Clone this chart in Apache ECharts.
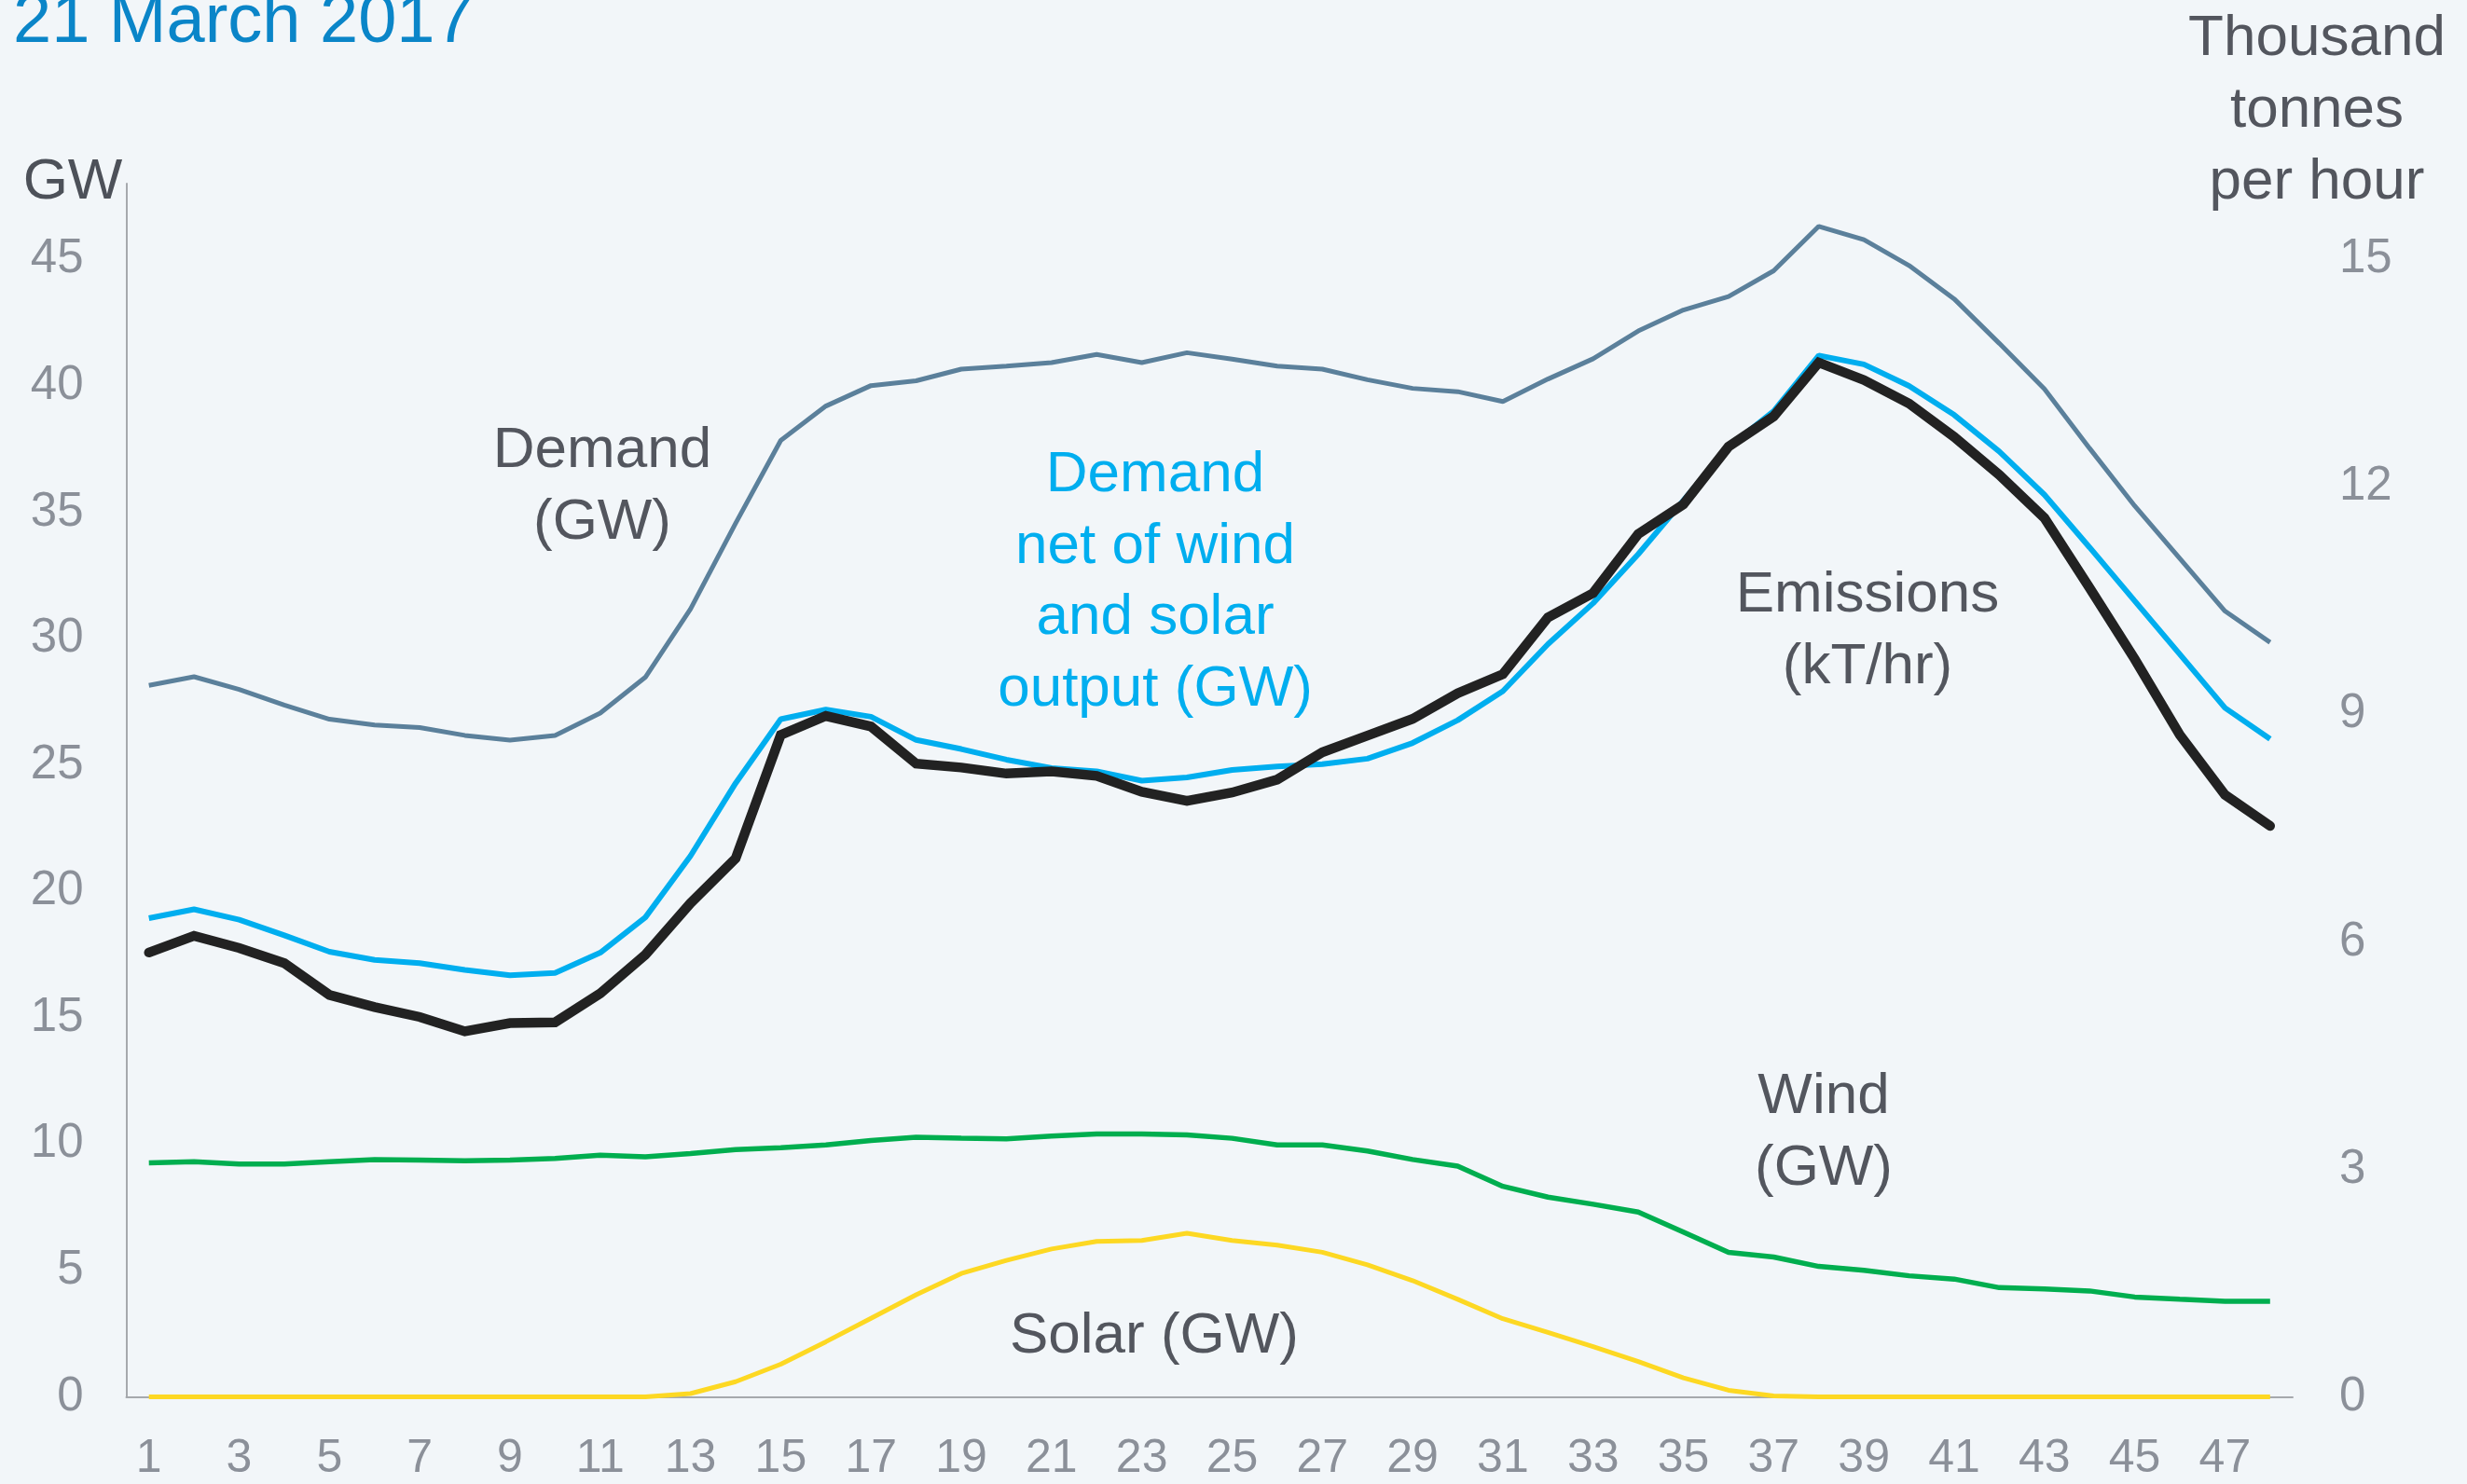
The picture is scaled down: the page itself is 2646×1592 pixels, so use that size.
<!DOCTYPE html>
<html>
<head>
<meta charset="utf-8">
<script src="https://cdn.jsdelivr.net/npm/echarts@6/dist/echarts.min.js"></script>
<style>
html,body{margin:0;padding:0;background:#f2f6f9;}
#chart{width:2646px;height:1592px;}
</style>
</head>
<body>
<div id="chart"></div>
<script>
// Half-hourly settlement periods
var periods = [];
for (var p = 1; p <= 48; p++) periods.push(String(p));

// Demand (GW)
var demand = [28.15,28.49,27.99,27.37,26.81,26.58,26.48,26.17,25.98,26.17,27.05,28.47,31.17,34.56,37.84,39.2,
  40.01,40.2,40.66,40.78,40.92,41.24,40.92,41.31,41.06,40.78,40.66,40.24,39.9,39.77,39.38,40.27,
  41.07,42.17,43.0,43.53,44.55,46.31,45.78,44.76,43.44,41.68,39.88,37.53,35.25,33.17,31.09,29.85];

// Demand net of wind and solar output (GW)
var netDemand = [18.94,19.29,18.88,18.26,17.61,17.29,17.16,16.89,16.68,16.77,17.57,18.97,21.4,24.28,26.81,27.19,
  26.91,25.99,25.63,25.21,24.88,24.75,24.38,24.51,24.8,24.94,25.03,25.25,25.87,26.77,27.92,29.78,
  31.4,33.34,35.46,37.58,39.0,41.2,40.85,40.0,38.85,37.4,35.69,33.61,31.49,29.38,27.26,26.03];

// Wind (GW)
var wind = [9.26,9.3,9.21,9.21,9.3,9.39,9.37,9.34,9.37,9.43,9.56,9.5,9.63,9.78,9.86,9.97,
  10.14,10.27,10.23,10.21,10.32,10.4,10.4,10.36,10.23,9.97,9.97,9.73,9.39,9.13,8.33,7.9,
  7.62,7.31,6.52,5.72,5.53,5.16,5.01,4.79,4.66,4.32,4.27,4.19,3.95,3.86,3.78,3.78];

// Solar (GW)
var solar = [0,0,0,0,0,0,0,0,0,0,0,0,0.13,0.6,1.29,2.18,
  3.11,4.04,4.88,5.4,5.85,6.15,6.19,6.47,6.19,6.0,5.72,5.22,4.6,3.86,3.09,2.55,
  1.99,1.4,0.75,0.26,0.04,0,0,0,0,0,0,0,0,0,0,0];

// Emissions (thousand tonnes per hour)
var emissions = [5.86,6.08,5.92,5.72,5.3,5.14,5.01,4.82,4.93,4.94,5.32,5.83,6.51,7.1,8.73,8.98,
  8.84,8.35,8.3,8.22,8.25,8.19,7.98,7.86,7.97,8.14,8.5,8.72,8.94,9.28,9.53,10.28,
  10.6,11.38,11.77,12.53,12.93,13.64,13.41,13.1,12.66,12.16,11.59,10.67,9.73,8.73,7.94,7.53];

var FONT = '"Liberation Sans", Arial, sans-serif';
var TXT = '#53565e';
var TICK = '#8b9099';

function lines(arr, x, y0, step, color, size, align) {
  return arr.map(function (t, i) {
    return {
      type: 'text', x: x, y: y0 + i * step, z: 100,
      style: { text: t, fill: color, font: size + 'px ' + FONT, textAlign: align || 'center', textVerticalAlign: 'middle' }
    };
  });
}

var graphics = [].concat(
  lines(['21 March 2017'], 14, 25, 0, '#0a85c8', 74, 'left'),
  lines(['GW'], 78, 196, 0, '#4d5159', 62),
  lines(['Thousand', 'tonnes', 'per hour'], 2485, 42, 77, TXT, 62),
  lines(['Demand', '(GW)'], 646, 484, 76.5, TXT, 62),
  lines(['Demand', 'net of wind', 'and solar', 'output (GW)'], 1239, 510, 76.6, '#00aeef', 62),
  lines(['Emissions', '(kT/hr)'], 2003, 639, 77, TXT, 62),
  lines(['Wind', '(GW)'], 1956, 1177, 77, TXT, 62),
  lines(['Solar (GW)'], 1238, 1434, 0, TXT, 62)
);

var chart = echarts.init(document.getElementById('chart'), null, { renderer: 'canvas' });
chart.setOption({
  backgroundColor: '#f2f6f9',
  animation: false,
  textStyle: { fontFamily: FONT },
  grid: { left: 135.5, right: 187, top: 197, bottom: 93.5, containLabel: false },
  xAxis: {
    type: 'category', data: periods, boundaryGap: true,
    axisLine: { show: true, lineStyle: { color: '#a6a9ad', width: 2 } },
    axisTick: { show: false },
    axisLabel: { interval: 1, color: TICK, fontSize: 50, margin: 42, fontFamily: FONT },
    splitLine: { show: false }
  },
  yAxis: [
    {
      type: 'value', min: 0, max: 48, interval: 5,
      axisLine: { show: true, lineStyle: { color: '#a6a9ad', width: 2 } },
      axisTick: { show: false }, splitLine: { show: false },
      axisLabel: { color: TICK, fontSize: 51, margin: 46, showMaxLabel: false, fontFamily: FONT, padding: [12, 0, 0, 0] }
    },
    {
      type: 'value', min: 0, max: 16, interval: 3, position: 'right',
      axisLine: { show: false }, axisTick: { show: false }, splitLine: { show: false },
      axisLabel: { color: TICK, fontSize: 51, margin: 50, showMaxLabel: false, fontFamily: FONT, padding: [12, 0, 0, 0] }
    }
  ],
  series: [
    { name: 'Demand', type: 'line', data: demand, symbol: 'none', lineStyle: { color: '#5b809b', width: 5 } },
    { name: 'Wind', type: 'line', data: wind, symbol: 'none', lineStyle: { color: '#00ae4f', width: 5.5 } },
    { name: 'Solar', type: 'line', data: solar, symbol: 'none', lineStyle: { color: '#fdd823', width: 5 } },
    { name: 'Net demand', type: 'line', data: netDemand, symbol: 'none', lineStyle: { color: '#00aeef', width: 6 } },
    { name: 'Emissions', type: 'line', yAxisIndex: 1, data: emissions, symbol: 'none', lineStyle: { color: '#222222', width: 10.5, cap: 'round', join: 'miter' } }
  ],
  graphic: graphics
});
</script>
</body>
</html>
